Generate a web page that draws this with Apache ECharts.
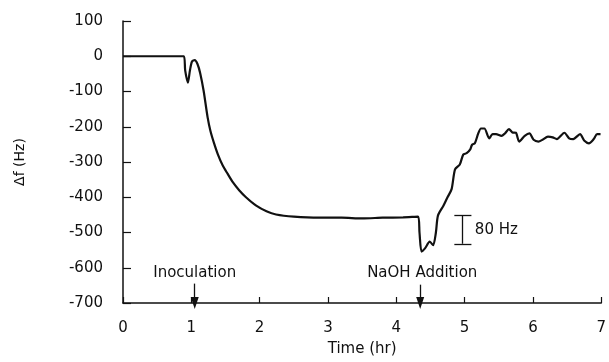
<!DOCTYPE html>
<html>
<head>
<meta charset="utf-8">
<script src="https://cdn.jsdelivr.net/npm/echarts@6/dist/echarts.min.js"></script>
<style>html,body{margin:0;padding:0;background:#fff}#c{width:609px;height:362px}</style>
</head>
<body>
<div id="c"></div>
<script>
var timeHr = [0, 0.5, 0.89, 0.91, 0.95, 0.98, 1.01, 1.05, 1.09, 1.13, 1.18, 1.24, 1.28, 1.33, 1.39, 1.46, 1.53, 1.61, 1.70, 1.80, 1.95, 2.10, 2.24, 2.50, 2.87, 3.20, 3.50, 3.80, 4.10, 4.32, 4.34, 4.37, 4.42, 4.49, 4.54, 4.58, 4.61, 4.69, 4.75, 4.81, 4.86, 4.93, 4.98, 5.03, 5.08, 5.11, 5.15, 5.20, 5.24, 5.29, 5.36, 5.41, 5.46, 5.54, 5.59, 5.65, 5.70, 5.75, 5.80, 5.88, 5.95, 6.01, 6.08, 6.14, 6.22, 6.29, 6.35, 6.46, 6.53, 6.59, 6.69, 6.75, 6.82, 6.89, 6.94, 6.99];
var deltaF = [0, 0, 0, -40, -75, -40, -15, -11, -22, -48, -98, -175, -212, -245, -279, -310, -333, -358, -380, -400, -424, -440, -449, -455, -458, -458, -460, -458, -457, -455, -500, -554, -545, -526, -536, -500, -452, -424, -400, -377, -321, -307, -279, -275, -265, -251, -247, -219, -205, -205, -233, -221, -221, -226, -219, -207, -216, -217, -242, -226, -219, -237, -242, -237, -228, -230, -235, -217, -233, -235, -221, -239, -247, -235, -221, -221];
var xTicks = ['0','1','2','3','4','5','6','7'];
var yTicks = ['100','0','-100','-200','-300','-400','-500','-600','-700'];
var annotations = [
  {text: 'Inoculation', t: 1.05, labelT: 1.05, top: -645},
  {text: 'NaOH Addition', t: 4.35, labelT: 4.38, top: -648}
];
var scaleBar = {t: 4.97, from: -452, to: -532, capL: 4.85, capR: 5.10, label: '80 Hz'};

var FONT = 'DejaVu Sans';
var col = '#111';
var chart = echarts.init(document.getElementById('c'));
var pts = timeHr.map(function(t, i){ return [t, deltaF[i]]; });

var arrowLines = annotations.map(function(a){
  return [{coord: [a.t, a.top], symbol: 'none'}, {coord: [a.t, -700], symbol: 'triangle'}];
});
var textPts = annotations.map(function(a){
  return {coord: [a.labelT, -614], value: a.text};
});

chart.setOption({
  animation: false,
  grid: {left: 123, right: 5, top: 21, bottom: 55, containLabel: false},
  xAxis: {
    type: 'value', min: 0, max: 7, interval: 1,
    name: 'Time (hr)', nameLocation: 'middle', nameGap: 39,
    nameTextStyle: {fontFamily: FONT, fontSize: 15, color: col},
    axisLine: {show: true, onZero: false, lineStyle: {color: col, width: 1.5}},
    axisTick: {show: true, inside: true, length: 6, lineStyle: {color: col, width: 1.2}},
    axisLabel: {fontFamily: FONT, fontSize: 15, color: col, margin: 18,
      formatter: function(v){ return xTicks[Math.round(v)]; }},
    splitLine: {show: false}
  },
  yAxis: {
    type: 'value', min: -700, max: 100, interval: 100,
    name: 'Δf (Hz)', nameLocation: 'middle', nameGap: 96, nameRotate: 90,
    nameTextStyle: {fontFamily: FONT, fontSize: 14, color: col},
    axisLine: {show: true, onZero: false, lineStyle: {color: col, width: 1.5}},
    axisTick: {show: true, inside: true, length: 8, lineStyle: {color: col, width: 1.2}},
    axisLabel: {fontFamily: FONT, fontSize: 15, color: col, margin: 20,
      formatter: function(v){ return yTicks[Math.round((100 - v) / 100)]; }},
    splitLine: {show: false}
  },
  series: [
    {
      type: 'line', data: pts, showSymbol: false, symbol: 'none',
      lineStyle: {color: col, width: 2.2}, smooth: 0.25, z: 3
    },
    {
      type: 'line', data: [], symbol: 'none',
      markLine: {
        silent: true, symbolSize: [8, 12],
        lineStyle: {color: col, width: 1.3, type: 'solid'},
        label: {show: false},
        data: arrowLines.concat([
          [{coord: [scaleBar.t, scaleBar.from], symbol: 'none'}, {coord: [scaleBar.t, scaleBar.to], symbol: 'none'}],
          [{coord: [scaleBar.capL, scaleBar.from], symbol: 'none'}, {coord: [scaleBar.capR, scaleBar.from], symbol: 'none'}],
          [{coord: [scaleBar.capL, scaleBar.to], symbol: 'none'}, {coord: [scaleBar.capR, scaleBar.to], symbol: 'none'}]
        ])
      },
      markPoint: {
        silent: true, symbol: 'circle', symbolSize: 0,
        label: {show: true, position: 'inside', fontFamily: FONT, fontSize: 15, color: col,
          formatter: function(p){ return p.value; }},
        data: textPts.concat([
          {coord: [scaleBar.capR + 0.05, (scaleBar.from + scaleBar.to) / 2], value: scaleBar.label,
           label: {position: 'right', distance: 0}}
        ])
      }
    }
  ]
});
</script>
</body>
</html>
